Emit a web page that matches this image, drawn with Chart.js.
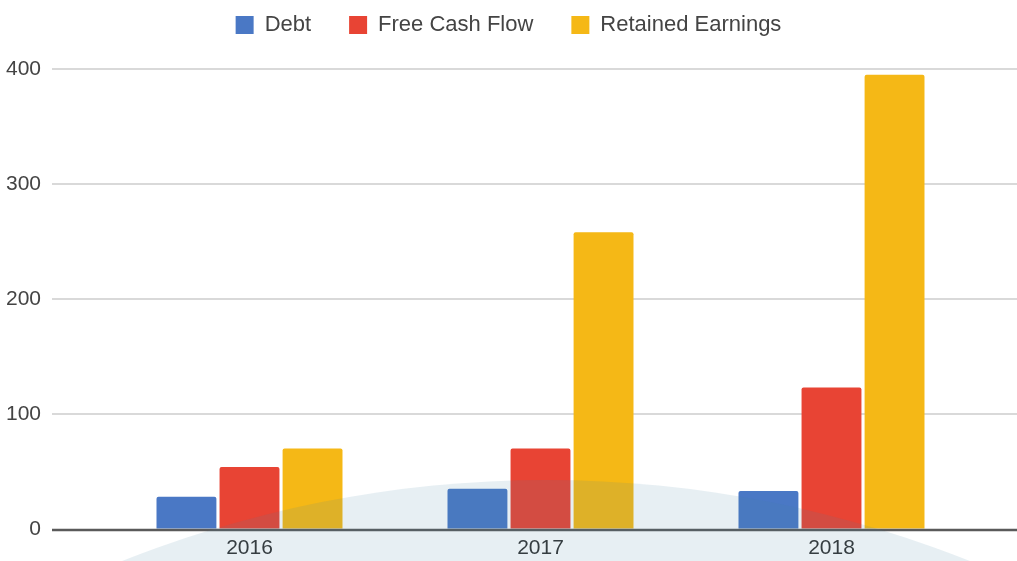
<!DOCTYPE html>
<html>
<head>
<meta charset="utf-8">
<script src="https://cdn.jsdelivr.net/npm/chart.js@4.4.1/dist/chart.umd.min.js"></script>
<style>
  html, body { margin: 0; padding: 0; background: #fff; }
  #wrap { width: 1017px; height: 561px; }
</style>
</head>
<body>
<div id="wrap"><canvas id="chart"></canvas></div>
<script>
// data
const years = ['2016', '2017', '2018'];
const debt = [28, 35, 33];
const freeCashFlow = [54, 70, 123];
const retainedEarnings = [70, 258, 395];
const yTicks = [0, 100, 200, 300, 400];

Chart.defaults.font.family = "'Liberation Sans', Arial, sans-serif";
Chart.defaults.font.size = 21;
Chart.defaults.color = '#444';

// grid lines run wider than the plot area, like the original
const wideGrid = {
  id: 'wideGrid',
  beforeDatasetsDraw(chart) {
    const y = chart.scales.y;
    const ctx = chart.ctx;
    ctx.save();
    ctx.strokeStyle = '#d9d9d9';
    ctx.lineWidth = 2;
    y.ticks.forEach(t => {
      if (t.value === 0) return;
      const py = Math.round(y.getPixelForValue(t.value));
      ctx.beginPath();
      ctx.moveTo(52, py);
      ctx.lineTo(chart.width, py);
      ctx.stroke();
    });
    ctx.restore();
  },
  afterDatasetsDraw(chart) {
    const y = chart.scales.y;
    const ctx = chart.ctx;
    const py = Math.round(y.getPixelForValue(0)) + 1;
    ctx.save();
    ctx.strokeStyle = '#5a5a5a';
    ctx.lineWidth = 2.5;
    ctx.beginPath();
    ctx.moveTo(52, py);
    ctx.lineTo(chart.width, py);
    ctx.stroke();
    ctx.restore();
  }
};

// pale blue arc in the lower part of the picture
const arcShade = {
  id: 'arcShade',
  afterDraw(chart) {
    const ctx = chart.ctx;
    ctx.save();
    ctx.fillStyle = 'rgba(70, 130, 160, 0.13)';
    ctx.beginPath();
    ctx.arc(546, 1630, 1150, 0, Math.PI * 2);
    ctx.fill();
    ctx.restore();
  }
};

new Chart(document.getElementById('chart'), {
  type: 'bar',
  data: {
    labels: years,
    datasets: [
      { label: 'Debt', data: debt, backgroundColor: '#4a78c5' },
      { label: 'Free Cash Flow', data: freeCashFlow, backgroundColor: '#e84434' },
      { label: 'Retained Earnings', data: retainedEarnings, backgroundColor: '#f5b816' }
    ]
  },
  options: {
    responsive: true,
    maintainAspectRatio: false,
    animation: false,
    layout: { padding: { top: -24, right: 0, left: 0, bottom: 0 } },
    datasets: {
      bar: { categoryPercentage: 0.65, barPercentage: 0.95, borderRadius: 2 }
    },
    scales: {
      x: {
        grid: { display: false, drawTicks: false },
        border: { display: false },
        ticks: { padding: 7, color: '#333' },
        afterFit(scale) { scale.height = 32; }
      },
      // empty band between legend and plot
      xTop: {
        type: 'category',
        position: 'top',
        grid: { display: false, drawTicks: false },
        border: { display: false },
        ticks: { display: false },
        afterFit(scale) { scale.height = 23; }
      },
      y: {
        min: 0,
        max: 400,
        afterBuildTicks(scale) {
          scale.ticks = yTicks.map(v => ({ value: v }));
        },
        afterFit(scale) { scale.width = 104; },
        grid: {
          display: true,
          drawOnChartArea: false,
          drawTicks: true,
          tickLength: 55,
          tickColor: 'rgba(0,0,0,0)'
        },
        border: { display: false },
        ticks: { padding: 8, color: '#444' }
      },
      // empty band on the right
      yRight: {
        type: 'linear',
        position: 'right',
        min: 0,
        max: 1,
        grid: { display: false, drawTicks: false },
        border: { display: false },
        ticks: { display: false },
        afterFit(scale) { scale.width = 40; }
      }
    },
    plugins: {
      legend: {
        position: 'top',
        labels: {
          boxWidth: 18,
          boxHeight: 18,
          padding: 38,
          color: '#444',
          font: { size: 22 }
        }
      },
      tooltip: { enabled: false }
    }
  },
  plugins: [wideGrid, arcShade]
});
</script>
</body>
</html>
